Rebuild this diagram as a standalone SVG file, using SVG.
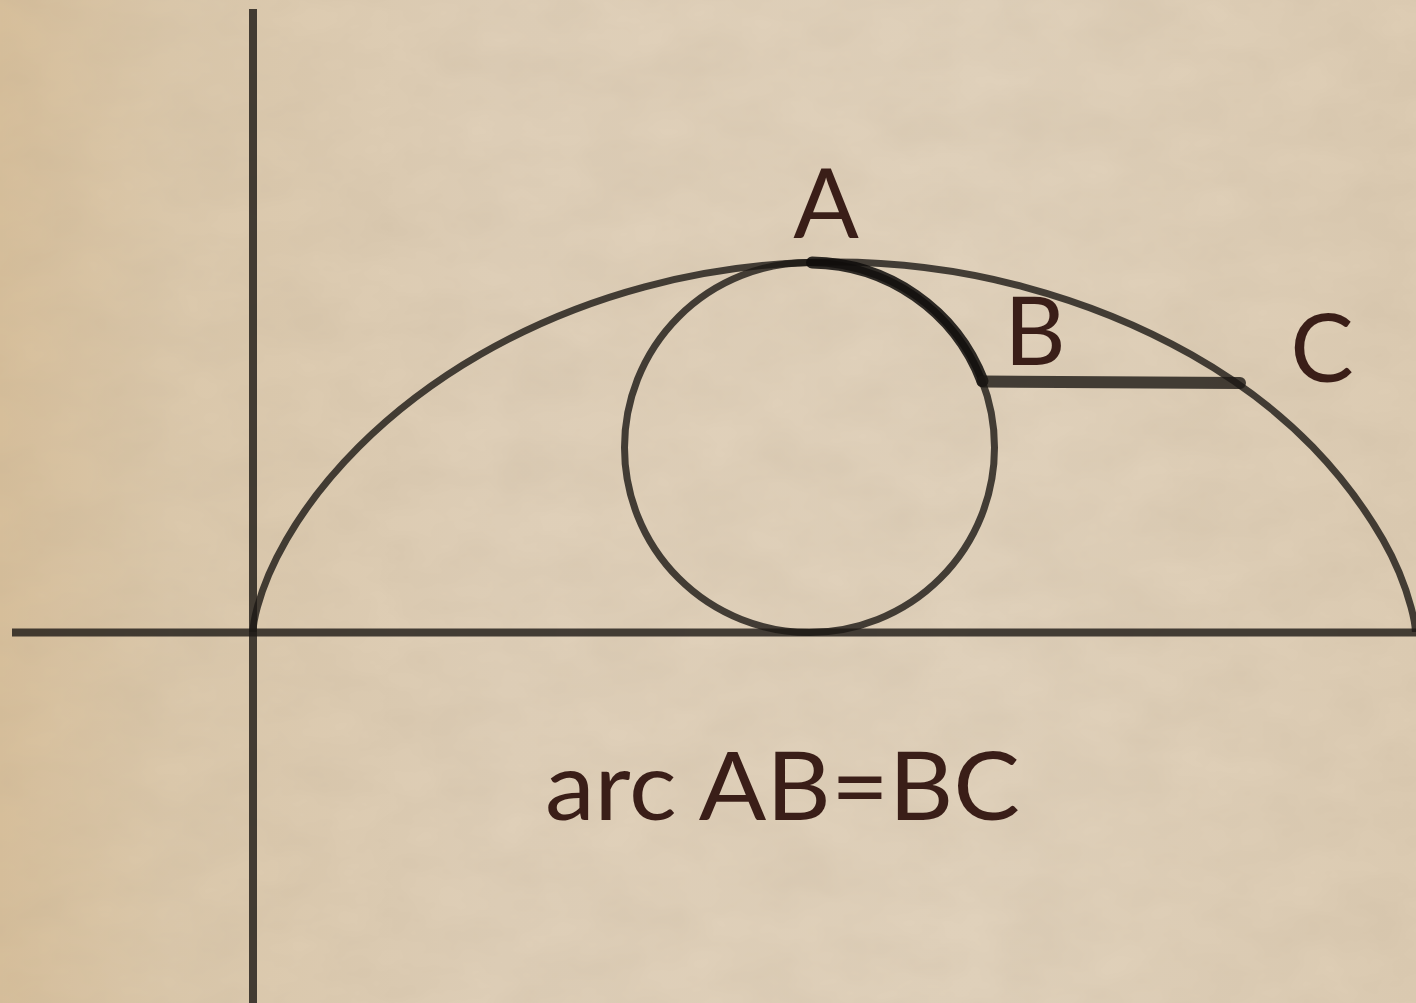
<svg xmlns="http://www.w3.org/2000/svg" width="1416" height="1003" viewBox="0 0 1416 1003">
  <defs>
    <linearGradient id="paper" x1="0" y1="0" x2="1" y2="0">
      <stop offset="0" stop-color="#d7bf9b"/>
      <stop offset="0.12" stop-color="#dbc8ab"/>
      <stop offset="0.35" stop-color="#dfcfb8"/>
      <stop offset="0.7" stop-color="#e0d1bb"/>
      <stop offset="1" stop-color="#ddccb3"/>
    </linearGradient>
    <filter id="grain" x="0" y="0" width="100%" height="100%">
      <feTurbulence type="fractalNoise" baseFrequency="0.012 0.02" numOctaves="4" seed="7" result="n"/>
      <feColorMatrix in="n" type="matrix" values="0 0 0 0 0.45  0 0 0 0 0.36  0 0 0 0 0.25  0 0 0 0.22 -0.04"/>
    </filter>
    <style>
      .ln { fill: none; stroke: #1c1814; stroke-opacity: 0.8; stroke-width: 7; }
      .thick { fill: none; stroke: #0e0c0a; stroke-opacity: 0.85; stroke-width: 12; stroke-linecap: round; }
      .lbl { font-family: Lato, "Liberation Sans", Arial, sans-serif; font-weight: 400; fill: #3a1e18; }
    </style>
  </defs>

  <rect width="1416" height="1003" fill="url(#paper)"/>
  <rect width="1416" height="1003" filter="url(#grain)"/>

  <g id="axes">
    <line class="ln" x1="253" y1="9" x2="253" y2="1003" style="stroke-width:8"/>
    <line class="ln" x1="12" y1="632.5" x2="1416" y2="632.5" style="stroke-width:8"/>
  </g>

  <g id="cycloid">
    <path class="ln" d="M253,632 C253,632 253.04,623.35 257.37,607.21 C261.70,591.07 270.38,567.46 286.52,539.5 C302.66,511.54 326.31,479.29 358.60,447 C390.89,414.71 431.82,382.46 480.25,354.5 C528.68,326.54 584.58,302.93 644.83,286.79 C705.08,270.65 769.61,262 834.19,262 C898.77,262 963.31,270.65 1023.56,286.79 C1083.81,302.93 1141.71,326.54 1191.14,354.5 C1240.57,382.46 1281.50,414.71 1312.79,447 C1344.08,479.29 1366.73,511.54 1382.87,539.5 C1399.01,567.46 1406.69,591.07 1411.02,607.21 C1415.35,623.35 1415.39,632 1415.39,632"/>
  </g>

  <g id="circle">
    <circle class="ln" cx="809.5" cy="447.5" r="185"/>
  </g>

  <g id="connectors">
    <path id="arc-AB" class="thick" d="M812,262.5 A185,185 0 0 1 982.5,381"/>
    <line id="segment-BC" class="thick" x1="982.5" y1="381.5" x2="1240" y2="383" style="stroke:#1c1814;stroke-opacity:0.8"/>
  </g>

  <g id="labels">
    <text class="lbl" x="826" y="238" font-size="97" text-anchor="middle">A</text>
    <text class="lbl" x="1035" y="365" font-size="95" text-anchor="middle">B</text>
    <text class="lbl" x="1322" y="382" font-size="95" text-anchor="middle">C</text>
    <text class="lbl" x="545" y="820" font-size="95" textLength="475" lengthAdjust="spacingAndGlyphs">arc AB=BC</text>
  </g>
</svg>
